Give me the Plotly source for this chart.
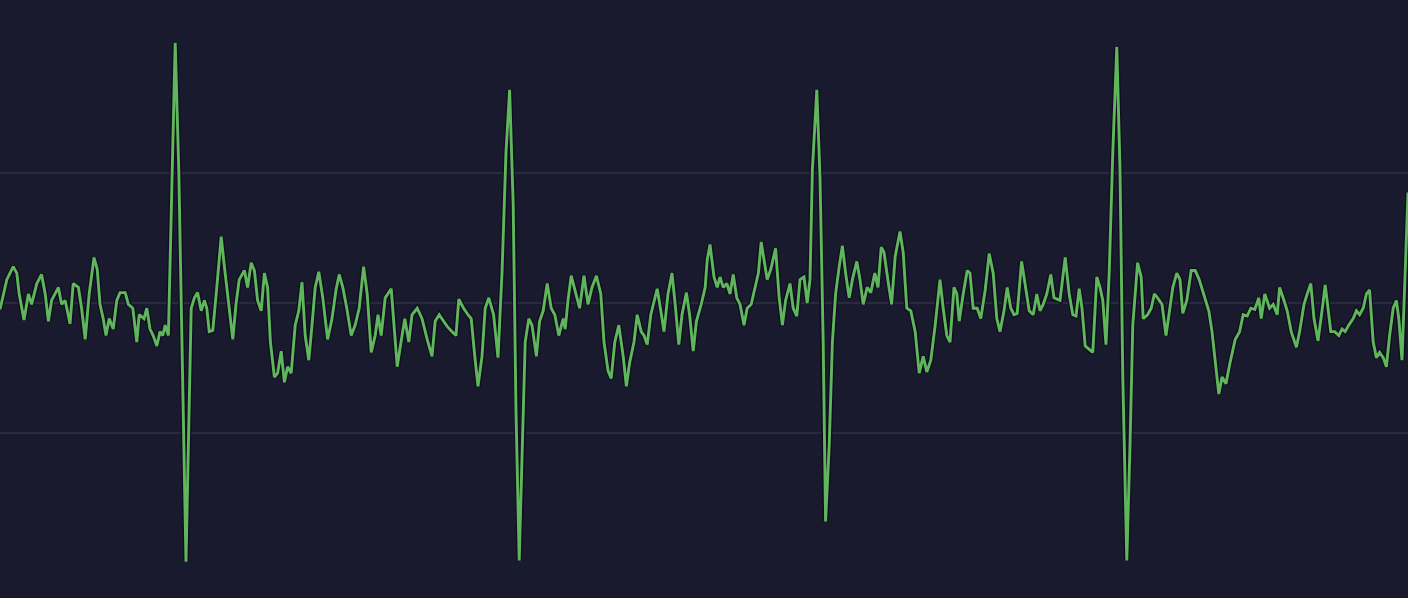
"""
ECG-style trace on a dark panel, recreated with Plotly.
"""

import plotly.graph_objects as go

# Theme
THEME = {
    "background": "#1a1a2e",
    "grid": "#2a2a3f",
    "line": "#60b65c",
    "outline": "#0e0e1e",
}

# Time in ms
time_ms = [
    0, 17, 33, 42, 48, 60, 71, 79, 92, 104, 113, 121, 129, 146, 154, 163, 175, 183, 196, 204,
    213, 223, 235, 243, 250, 258, 265, 273, 283, 292, 300, 313, 321, 332, 342, 348, 360, 367, 375, 383,
    392, 400, 407, 413, 421, 430, 438, 447, 465, 478, 486, 494, 503, 511, 517, 523, 532, 542, 553, 561,
    572, 582, 590, 598, 611, 619, 628, 636, 644, 653, 661, 669, 676, 686, 694, 703, 711, 719, 728, 738,
    747, 755, 763, 772, 780, 788, 797, 807, 819, 830, 840, 848, 857, 867, 878, 888, 898, 909, 918, 928,
    938, 945, 953, 963, 978, 987, 993, 1001, 1012, 1022, 1030, 1043, 1055, 1068, 1080, 1088, 1098, 1109, 1118, 1130,
    1140, 1147, 1159, 1170, 1178, 1187, 1195, 1205, 1213, 1222, 1234, 1245, 1255, 1265, 1274, 1283, 1290, 1298, 1307, 1313,
    1322, 1330, 1341, 1349, 1358, 1368, 1378, 1387, 1397, 1408, 1413, 1420, 1428, 1438, 1449, 1460, 1470, 1480, 1491, 1502,
    1510, 1520, 1528, 1537, 1547, 1558, 1566, 1574, 1585, 1593, 1603, 1610, 1618, 1627, 1635, 1643, 1652, 1660, 1670, 1680,
    1688, 1697, 1705, 1716, 1724, 1733, 1741, 1753, 1763, 1768, 1775, 1785, 1793, 1800, 1808, 1817, 1825, 1833, 1842, 1850,
    1860, 1868, 1878, 1889, 1896, 1903, 1910, 1918, 1927, 1939, 1948, 1956, 1964, 1975, 1983, 1992, 2000, 2010, 2018, 2025,
    2031, 2042, 2050, 2058, 2064, 2073, 2081, 2089, 2098, 2106, 2114, 2123, 2131, 2142, 2150, 2158, 2168, 2177, 2187, 2195,
    2203, 2210, 2221, 2229, 2238, 2250, 2258, 2267, 2277, 2288, 2298, 2308, 2317, 2327, 2338, 2350, 2358, 2367, 2375, 2385,
    2392, 2398, 2408, 2418, 2425, 2433, 2443, 2452, 2463, 2473, 2483, 2492, 2500, 2510, 2518, 2527, 2535, 2543, 2554, 2564,
    2573, 2583, 2592, 2600, 2608, 2617, 2627, 2635, 2650, 2663, 2673, 2682, 2690, 2698, 2705, 2713, 2723, 2732, 2742, 2750,
    2757, 2765, 2773, 2782, 2792, 2800, 2807, 2817, 2825, 2832, 2844, 2853, 2858, 2869, 2878, 2886, 2894, 2905, 2915, 2923,
    2932, 2942, 2950, 2957, 2967, 2978, 2988, 2998, 3011, 3022, 3030, 3038, 3047, 3055, 3065, 3075, 3088, 3099, 3108, 3118,
    3127, 3137, 3147, 3153, 3162, 3174, 3183, 3193, 3199, 3210, 3218, 3228, 3241, 3249, 3260, 3268, 3277, 3285, 3295, 3305,
    3313, 3320, 3327, 3337, 3347, 3355, 3363, 3372, 3383, 3391, 3399, 3408, 3416, 3424, 3433, 3441, 3449, 3458, 3466, 3474,
    3483, 3491, 3497, 3505, 3520,
]

# Amplitude in mV
amplitude_mv = [
    -0.05, 0.18, 0.28, 0.23, 0.07, -0.13, 0.07, -0.01, 0.15, 0.22, 0.07, -0.14, 0.02, 0.12, -0.01, 0.02, -0.16, 0.15, 0.12, -0.04,
    -0.28, 0.07, 0.35, 0.26, -0.01, -0.12, -0.25, -0.12, -0.20, 0.02, 0.08, 0.08, -0.01, -0.04, -0.30, -0.09, -0.12, -0.04, -0.20, -0.25,
    -0.33, -0.22, -0.25, -0.17, -0.25, 0.95, 2.00, 1.02, -1.99, -0.04, 0.04, 0.08, -0.06, 0.02, -0.04, -0.22, -0.21, 0.12, 0.51, 0.28,
    -0.04, -0.28, -0.01, 0.18, 0.25, 0.12, 0.31, 0.25, 0.02, -0.06, 0.23, 0.12, -0.30, -0.57, -0.54, -0.37, -0.61, -0.49, -0.54, -0.17,
    -0.06, 0.16, -0.25, -0.44, -0.17, 0.12, 0.24, 0.04, -0.28, -0.12, 0.10, 0.22, 0.12, -0.04, -0.25, -0.17, -0.04, 0.28, 0.07, -0.38,
    -0.25, -0.09, -0.25, 0.04, 0.11, -0.25, -0.49, -0.33, -0.12, -0.30, -0.09, -0.04, -0.12, -0.28, -0.41, -0.14, -0.09, -0.14, -0.18, -0.22,
    -0.25, 0.03, -0.04, -0.09, -0.12, -0.41, -0.64, -0.41, -0.04, 0.04, -0.09, -0.42, 0.23, 1.16, 1.64, 0.76, -0.83, -1.98, -1.07, -0.30,
    -0.12, -0.17, -0.41, -0.14, -0.06, 0.15, -0.04, -0.09, -0.25, -0.12, -0.20, 0.02, 0.21, 0.10, -0.04, 0.21, -0.01, 0.12, 0.21, 0.07,
    -0.30, -0.52, -0.58, -0.30, -0.17, -0.41, -0.64, -0.46, -0.30, -0.09, -0.22, -0.25, -0.32, -0.09, 0.02, 0.11, -0.06, -0.22, 0.07, 0.23,
    -0.01, -0.32, -0.09, 0.08, -0.09, -0.37, -0.14, -0.01, 0.12, 0.33, 0.45, 0.20, 0.12, 0.20, 0.12, 0.15, 0.07, 0.22, 0.04, -0.01,
    -0.17, -0.04, -0.01, 0.15, 0.23, 0.47, 0.34, 0.18, 0.26, 0.42, 0.04, -0.17, 0.02, 0.15, -0.04, -0.10, 0.18, 0.20, 0.00, 0.18,
    1.03, 1.64, 0.97, -0.30, -1.68, -1.10, -0.30, 0.07, 0.28, 0.44, 0.23, 0.04, 0.18, 0.32, 0.18, -0.01, 0.12, 0.08, 0.23, 0.12,
    0.43, 0.39, 0.15, -0.01, 0.36, 0.55, 0.39, -0.04, -0.06, -0.22, -0.54, -0.41, -0.53, -0.44, -0.17, 0.18, -0.04, -0.25, -0.30, 0.12,
    0.07, -0.14, 0.07, 0.25, 0.23, -0.04, -0.04, -0.12, 0.10, 0.38, 0.23, -0.12, -0.22, -0.06, 0.12, -0.04, -0.09, -0.08, 0.32, 0.12,
    -0.06, -0.09, 0.07, -0.06, -0.01, 0.07, 0.22, 0.04, 0.02, 0.35, 0.07, -0.09, -0.10, 0.11, -0.04, -0.33, -0.36, -0.38, 0.20, 0.12,
    0.02, -0.32, 0.23, 1.16, 1.97, 1.03, -0.57, -1.98, -1.10, -0.17, 0.31, 0.20, -0.12, -0.09, -0.04, 0.07, 0.04, -0.01, -0.25, -0.06,
    0.12, 0.23, 0.18, -0.08, 0.02, 0.25, 0.25, 0.18, 0.04, -0.06, -0.22, -0.46, -0.70, -0.57, -0.62, -0.46, -0.28, -0.22, -0.09, -0.10,
    -0.04, -0.05, 0.04, -0.12, 0.07, -0.04, -0.01, -0.09, 0.12, 0.02, -0.06, -0.22, -0.34, -0.22, -0.01, 0.07, 0.15, -0.12, -0.29, -0.06,
    0.14, -0.04, -0.22, -0.22, -0.25, -0.20, -0.22, -0.17, -0.12, -0.06, -0.09, -0.04, 0.07, 0.10, -0.30, -0.42, -0.38, -0.42, -0.49, -0.25,
    -0.04, 0.02, -0.12, -0.44, 0.85,
]

# Only the -1, 0 and +1 mV grid lines are shown
grid_mv = [-1, 0, 1]

fig = go.Figure()

# Dark halo under the trace
fig.add_trace(
    go.Scatter(
        x=time_ms,
        y=amplitude_mv,
        mode="lines",
        line=dict(color=THEME["outline"], width=5.5),
        hoverinfo="skip",
        showlegend=False,
    )
)

fig.add_trace(
    go.Scatter(
        x=time_ms,
        y=amplitude_mv,
        mode="lines",
        line=dict(color=THEME["line"], width=2.9),
        name="ECG",
        hovertemplate="%{x} ms<br>%{y:.2f} mV<extra></extra>",
        showlegend=False,
    )
)

fig.update_layout(
    width=1408,
    height=598,
    margin=dict(l=0, r=0, t=0, b=0),
    paper_bgcolor=THEME["background"],
    plot_bgcolor=THEME["background"],
    xaxis=dict(
        range=[0, 3520],
        showgrid=False,
        zeroline=False,
        showticklabels=False,
        showline=False,
    ),
    yaxis=dict(
        range=[-2.269, 2.331],
        tickmode="array",
        tickvals=grid_mv,
        gridcolor=THEME["grid"],
        gridwidth=1.5,
        zeroline=False,
        showticklabels=False,
        showline=False,
    ),
    showlegend=False,
)

fig.write_html(
    "out.html",
    config={"displayModeBar": False},
    post_script="document.body.style.margin='0';document.body.style.overflow='hidden';",
)
